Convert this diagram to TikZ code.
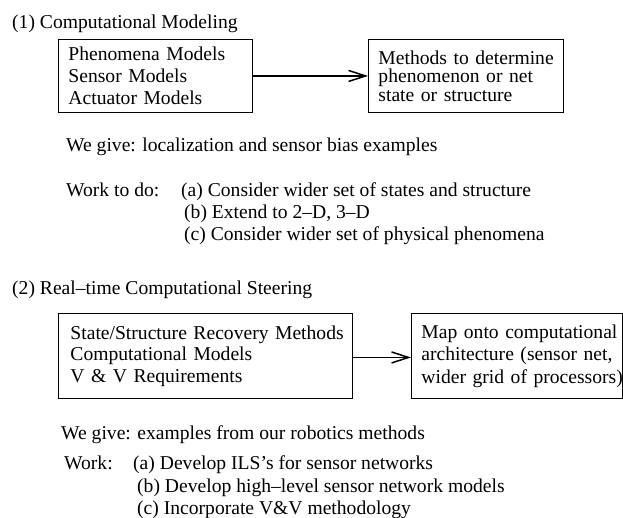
\documentclass[tikz,border=0pt]{standalone}
\usepackage{fontspec}
\setmainfont{Liberation Serif}
\usetikzlibrary{arrows.meta}
\begin{document}
\begin{tikzpicture}[x=1pt,y=-1pt,
  txt/.style={anchor=base west, inner sep=0pt, font=\fontsize{19.6}{22}\selectfont},
  box/.style={draw, line width=0.9pt, anchor=north west, align=left, inner ysep=0pt},
  arr/.style={-{Straight Barb[length=17pt,width=11pt]}, line width=1.5pt}]
\useasboundingbox (0,0) rectangle (623,518);

% Section 1
\node[txt] (h1) at (12,28.5) {(1) Computational Modeling};
\node[box, inner xsep=10pt, text width=174pt, minimum height=73pt,
      font=\fontsize{19.6}{22}\selectfont] (b1) at (58,39)
      {\mbox{Phenomena Models}\\\mbox{Sensor Models}\\\mbox{Actuator Models}};
\node[box, inner xsep=10pt, text width=175pt, minimum height=73pt,
      font=\fontsize{19.6}{18.5}\selectfont] (b2) at (368,39)
      {\mbox{Methods to determine}\\\mbox{phenomenon or net}\\\mbox{state or structure}};
\draw[arr] (b1.east) -- (b2.west);

\node[txt] (g1) at (66,151.5) {We give: localization and sensor bias examples};
\node[txt] (w1) at (66,196.5) {Work to do:};
\node[txt] (w1a) at (181,196.5) {(a) Consider wider set of states and structure};
\node[txt] (w1b) at (184,218.5) {(b) Extend to 2–D, 3–D};
\node[txt] (w1c) at (184,240.5) {(c) Consider wider set of physical phenomena};

% Section 2
\node[txt] (h2) at (12,294.5) {(2) Real–time Computational Steering};
\node[box, inner xsep=12pt, text width=270pt, minimum height=85pt,
      font=\fontsize{19.6}{21.5}\selectfont] (b3) at (58,313)
      {\mbox{State/Structure Recovery Methods}\\\mbox{Computational Models}\\\mbox{V \& V Requirements}};
\node[box, inner xsep=10pt, text width=191pt, minimum height=85pt,
      font=\fontsize{19.6}{22.5}\selectfont] (b4) at (411,313)
      {\mbox{Map onto computational}\\\mbox{architecture (sensor net,}\\\mbox{wider grid of processors)}};
\draw[arr] ([yshift=-1.5pt]b3.east) -- ([yshift=-1.5pt]b4.west);

\node[txt] (g2) at (61,439.5) {We give: examples from our robotics methods};
\node[txt] (w2) at (64,469.5) {Work:};
\node[txt] (w2a) at (133,469.5) {(a) Develop ILS’s for sensor networks};
\node[txt] (w2b) at (137,492.5) {(b) Develop high–level sensor network models};
\node[txt] (w2c) at (137,514.5) {(c) Incorporate V\&V methodology};
\end{tikzpicture}
\end{document}
